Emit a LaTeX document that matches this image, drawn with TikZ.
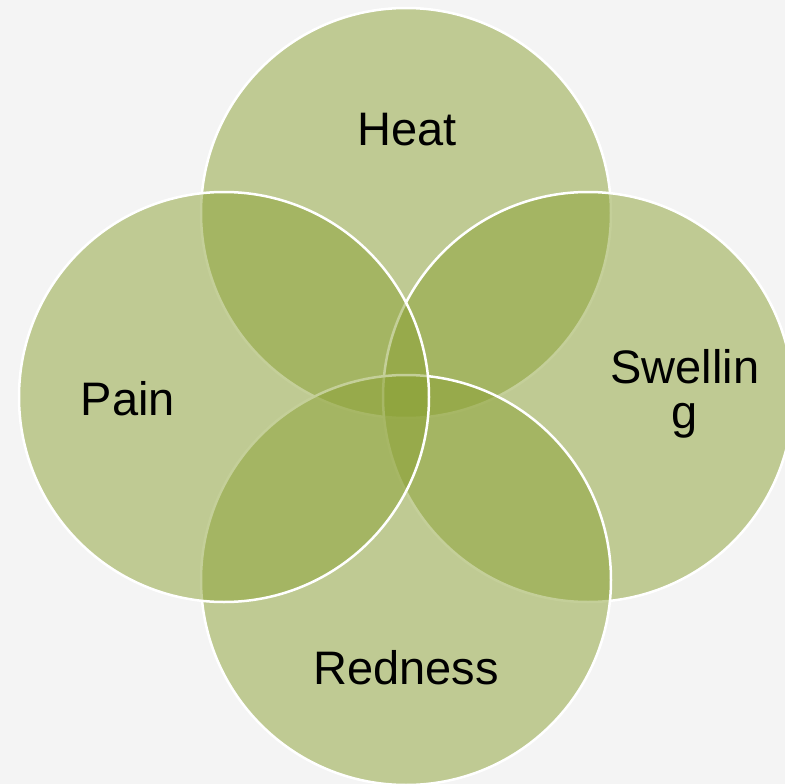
\documentclass[tikz,border=0pt]{standalone}
\usepackage{fontspec}
\setmainfont{Liberation Sans}
\usepackage{tikz}
\definecolor{leaf}{RGB}{139,161,52}
\definecolor{paper}{RGB}{244,244,244}

\begin{document}
\begin{tikzpicture}[x=1pt, y=-1pt, every node/.style={font=\fontsize{47}{45}\selectfont},
	petal/.style={circle, inner sep=0pt, minimum size=410pt, fill=leaf, fill opacity=0.5, draw=white, line width=2.5pt}]
	\clip (0,0) rectangle (785,784);
	\fill[paper] (0,0) rectangle (785,784);
	% circles, drawn clockwise from the top
	\node[petal] (heat) at (406,213) {};
	\node[petal] (swelling) at (588,397) {};
	\node[petal] (redness) at (406,580) {};
	\node[petal] (pain) at (224,397) {};
	\node[anchor=base] (heatlabel) at (407,145) {Heat};
	\node[anchor=base] (painlabel) at (128,415) {Pain};
	\node[anchor=base] (rednesslabel) at (406,684) {Redness};
	\node[align=center] (swellinglabel) at (685,394) {Swellin\\g};
\end{tikzpicture}
\end{document}
